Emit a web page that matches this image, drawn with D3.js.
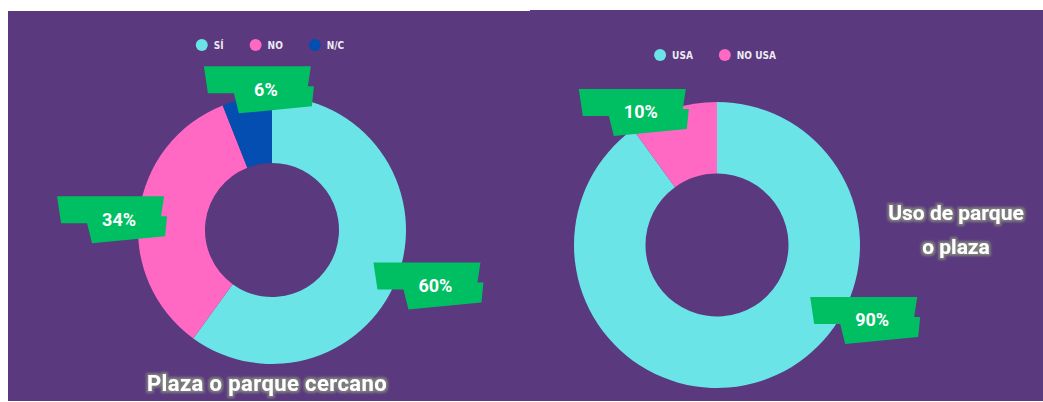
<!DOCTYPE html>
<html>
<head>
<meta charset="utf-8">
<script src="https://cdn.jsdelivr.net/npm/d3@7"></script>
<style>
  html, body { margin: 0; padding: 0; background: #ffffff; }
  svg { display: block; }
</style>
</head>
<body>
<svg id="chart" width="1043" height="402"></svg>
<script>
// ---- data ----
const leftCategories = ["SÍ", "NO", "N/C"];
const leftValues = [60, 34, 6];
const leftColors = ["#6be4e7", "#ff69c4", "#034eb0"];
const leftTitle = ["Plaza o parque cercano"];

const rightCategories = ["USA", "NO USA"];
const rightValues = [90, 10];
const rightColors = ["#6be4e7", "#ff69c4"];
const rightTitle = ["Uso de parque", "o plaza"];

// ---- layout config ----
const W = 1043, H = 402;
const bg = "#5a397e";
const green = "#00be62";
const svg = d3.select("#chart");

const defs = svg.append("defs");
const f = defs.append("filter").attr("id", "halo").attr("x", "-10%").attr("y", "-30%").attr("width", "120%").attr("height", "160%");
f.append("feMorphology").attr("in", "SourceAlpha").attr("operator", "dilate").attr("radius", 1.7).attr("result", "d");
f.append("feGaussianBlur").attr("in", "d").attr("stdDeviation", 1.0).attr("result", "b");
f.append("feFlood").attr("flood-color", "#7d7d7d").attr("result", "c");
f.append("feComposite").attr("in", "c").attr("in2", "b").attr("operator", "in").attr("result", "s");
const fm = f.append("feMerge");
fm.append("feMergeNode").attr("in", "s");
fm.append("feMergeNode").attr("in", "SourceGraphic");

// panel backgrounds
svg.append("rect").attr("x", 8).attr("y", 11).attr("width", 522).attr("height", 390).attr("fill", bg);
svg.append("rect").attr("x", 530).attr("y", 10).attr("width", 513).attr("height", 391).attr("fill", bg);

// banner shape relative to text center
const bannerShape = [[-62,-23],[45,-23],[42,-3],[48,-3],[46,17],[-27,24],[-32,4],[-58,4]];

function donut(opts) {
  const { cx, cy, r, categories, values, colors, legendY, nudges } = opts;
  const g = svg.append("g").attr("transform", `translate(${cx},${cy})`);
  const pie = d3.pie().sort(null).value(d => d.v);
  const data = pie(values.map((v, i) => ({ v, c: categories[i], col: colors[i] })));
  const arc = d3.arc().innerRadius(r * 0.5).outerRadius(r);
  g.selectAll("path.slice").data(data).join("path")
    .attr("class", "slice")
    .attr("d", arc)
    .attr("fill", d => d.data.col);

  // labels
  const lab = g.selectAll("g.lab").data(data).join("g").attr("class", "lab")
    .attr("transform", (d, i) => {
      const a = (d.startAngle + d.endAngle) / 2;
      const x = Math.sin(a) * r + nudges[i][0];
      const y = -Math.cos(a) * r + nudges[i][1];
      return `translate(${x},${y})`;
    });
  lab.append("polygon").attr("points", bannerShape.map(p => p.join(",")).join(" ")).attr("fill", green);
  lab.append("text").attr("text-anchor", "middle").attr("dy", "0.35em")
    .attr("font-family", "Roboto, 'DejaVu Sans', sans-serif").attr("font-weight", 700)
    .attr("font-size", 18).attr("fill", "#ffffff")
    .text(d => d.data.v + "%");

  // legend
  const lg = svg.append("g");
  let x = 0;
  categories.forEach((c, i) => {
    const it = lg.append("g");
    it.append("circle").attr("cx", 0).attr("cy", 0).attr("r", 6).attr("fill", colors[i]);
    const t = it.append("text").attr("x", 12).attr("dy", "0.36em")
      .attr("font-family", "'DejaVu Sans Condensed', 'DejaVu Sans', sans-serif").attr("font-weight", 700)
      .attr("font-size", 10).attr("fill", "#ecebf2").text(c);
    const w = t.node().getComputedTextLength();
    it.attr("transform", `translate(${x},0)`);
    x += 12 + w + 32;
  });
  const total = x - 32 + 6;
  lg.attr("transform", `translate(${cx - total / 2 + 4},${legendY})`);
}

donut({
  cx: 272, cy: 230, r: 134,
  categories: leftCategories, values: leftValues, colors: leftColors,
  legendY: 45,
  nudges: [[36, 14], [-20, 6], [19, -9]]
});
donut({
  cx: 717, cy: 245, r: 143,
  categories: rightCategories, values: rightValues, colors: rightColors,
  legendY: 55,
  nudges: [[111, -61], [-32, 3]]
});

function title(lines, cx, y0, lh, size, ls) {
  svg.append("g").selectAll("text").data(lines).join("text")
    .attr("x", cx).attr("y", (d, i) => y0 + i * lh)
    .attr("text-anchor", "middle")
    .attr("font-family", "Roboto, 'DejaVu Sans', sans-serif").attr("font-weight", 700)
    .attr("font-size", size).attr("letter-spacing", ls).attr("fill", "#ffffff")
    .attr("filter", "url(#halo)")
    .text(d => d);
}
title(leftTitle, 267, 391, 0, 22, 0.4);
title(rightTitle, 956, 220, 34, 21, 0);
</script>
</body>
</html>
